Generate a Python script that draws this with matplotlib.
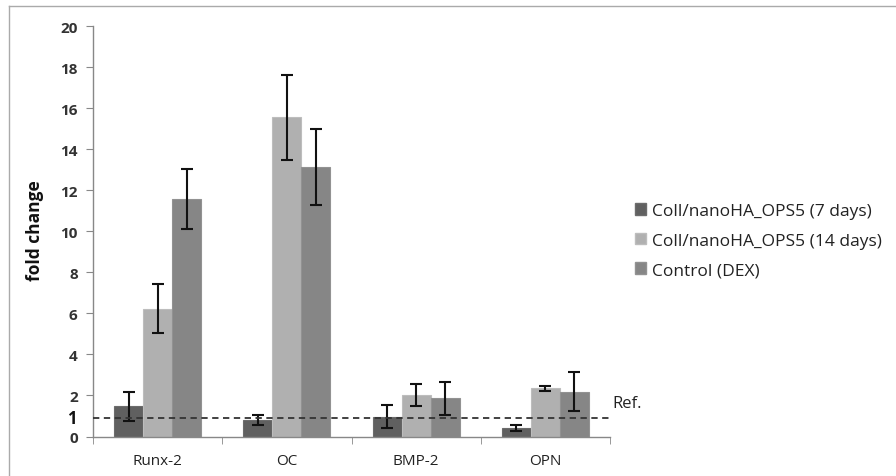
import matplotlib
matplotlib.use("Agg")
import matplotlib.pyplot as plt
import matplotlib.transforms as mtransforms
import numpy as np
from matplotlib.lines import Line2D
from matplotlib.patches import Patch

categories = ["Runx-2", "OC", "BMP-2", "OPN"]
series_names = ["Coll/nanoHA_OPS5 (7 days)", "Coll/nanoHA_OPS5 (14 days)", "Control (DEX)"]
vals_7d = [1.47, 0.80, 0.97, 0.41]
err_7d = [0.72, 0.25, 0.57, 0.13]
vals_14d = [6.22, 15.55, 2.04, 2.35]
err_14d = [1.20, 2.08, 0.53, 0.12]
vals_dex = [11.57, 13.13, 1.86, 2.19]
err_dex = [1.45, 1.83, 0.80, 0.95]
ref_level = 0.9
yticks = [0, 2, 4, 6, 8, 10, 12, 14, 16, 18, 20]

colors = ["#606060", "#b0b0b0", "#868686"]
edge_colors = ["#6c6c6c", "#bdbdbd", "#929292"]

W, H = 896, 477
fig = plt.figure(figsize=(W / 100, H / 100), dpi=100)
plt.rcParams['font.family'] = ['Open Sans', 'DejaVu Sans']

ax = fig.add_axes([93 / W, 1 - 437.5 / H, (610 - 93) / W, (437.5 - 27) / H])

x = np.arange(len(categories))
bw = 0.225
series = [(vals_7d, err_7d), (vals_14d, err_14d), (vals_dex, err_dex)]
for i, (v, e) in enumerate(series):
    xs = x + (i - 1) * bw
    ax.bar(xs, v, width=bw, color=colors[i], edgecolor=edge_colors[i], linewidth=0.8, zorder=2)
    ax.errorbar(xs, v, yerr=e, fmt='none', ecolor='#111111', elinewidth=1.5, capsize=4, capthick=1.5, zorder=3)

ax.set_xlim(-0.5, 3.5)
ax.set_ylim(0, 20)
ax.axhline(ref_level, color='#333333', linestyle=(0, (3.5, 2.5)), linewidth=1.3, zorder=4)

ax.set_yticks(yticks)
ax.set_yticklabels([str(t) for t in yticks], fontsize=11, fontweight='bold', color='#333333')
ax.set_xticks(x)
ax.set_xticklabels(categories, fontsize=11, color='#222222')
ax.set_xticks(np.arange(-0.5, 4.0, 1.0), minor=True)
ax.tick_params(axis='x', which='major', length=0, pad=12)
ax.tick_params(axis='x', which='minor', length=5, color='#888888', direction='out')
ax.tick_params(axis='y', length=5, color='#888888', direction='out', pad=6)

for s in ['top', 'right']:
    ax.spines[s].set_visible(False)
for s in ['left', 'bottom']:
    ax.spines[s].set_color('#888888')
    ax.spines[s].set_linewidth(1.0)

# bold "1" reference label at the dashed line
offset = mtransforms.ScaledTranslation(-12 / 72, 0, fig.dpi_scale_trans)
ax.text(-0.5, ref_level, "1", transform=ax.transData + offset, ha='right', va='center',
        fontsize=12, fontweight='bold', color='#111111')

fig.text(612 / W, 1 - 404 / H, "Ref.", fontsize=12, ha='left', va='center', color='#222222')

ax.set_ylabel("fold change", fontsize=12.5, fontweight='bold', color='#111111')
ax.yaxis.set_label_coords(44 / W, 1 - 231 / H, transform=fig.transFigure)

handles = [Patch(facecolor=colors[i], edgecolor=edge_colors[i]) for i in range(3)]
leg = fig.legend(handles, series_names, loc='upper left', bbox_to_anchor=(635 / W, 1 - 204 / H),
                 frameon=False, fontsize=12.5, handlelength=0.65, handleheight=0.65,
                 handletextpad=0.35, labelspacing=0.78, borderpad=0, borderaxespad=0)
for t in leg.get_texts():
    t.set_color('#222222')

# outer chart border (left and top)
fig.add_artist(Line2D([9 / W, 9 / W], [0, 1 - 7 / H], transform=fig.transFigure, color='#aaaaaa', linewidth=1))
fig.add_artist(Line2D([9 / W, 1], [1 - 7 / H, 1 - 7 / H], transform=fig.transFigure, color='#aaaaaa', linewidth=1))

fig.savefig("out.png", dpi=100)
